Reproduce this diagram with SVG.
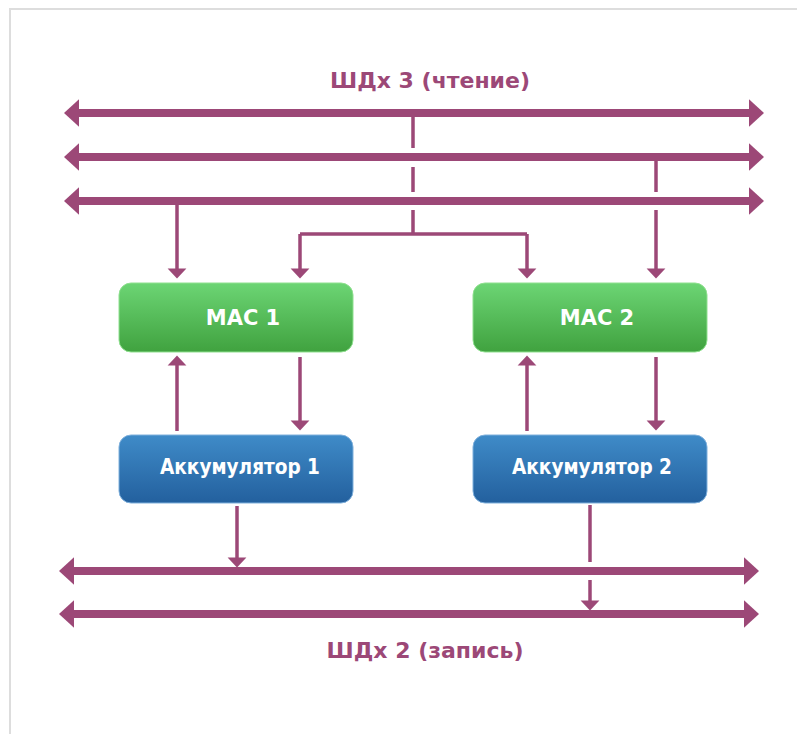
<svg xmlns="http://www.w3.org/2000/svg" width="797" height="734" viewBox="0 0 797 734">
<style>
.bus{stroke:#9c4877;stroke-width:8;fill:none;marker-start:url(#bh);marker-end:url(#bh)}
.ln{stroke:#9c4877;stroke-width:3.5;fill:none}
.ar{marker-end:url(#sh)}
.lbl{font-family:"DejaVu Sans",sans-serif;font-weight:bold;fill:#9c4877;font-size:22px;text-anchor:middle}
.nt{font-family:"DejaVu Sans",sans-serif;font-weight:bold;fill:#ffffff;font-size:21px}
</style>
<defs>
<marker id="bh" markerUnits="userSpaceOnUse" orient="auto-start-reverse" refX="0" refY="0" markerWidth="30" markerHeight="30" viewBox="-6 -12 18 24" overflow="visible">
<path d="M-4,-11 L8,0 L-4,11 z" fill="#9c4877"/>
</marker>
<marker id="sh" markerUnits="userSpaceOnUse" orient="auto" refX="0" refY="0" markerWidth="20" markerHeight="20" viewBox="-4 -8 12 16" overflow="visible">
<path d="M-2,-7.5 L6,0 L-2,7.5 z" fill="#9c4877"/>
</marker>
<linearGradient id="gg" x1="0" y1="0" x2="0" y2="1">
<stop offset="0" stop-color="#6cd574"/>
<stop offset="1" stop-color="#40a23f"/>
</linearGradient>
<linearGradient id="bg" x1="0" y1="0" x2="0" y2="1">
<stop offset="0" stop-color="#3f8bc8"/>
<stop offset="1" stop-color="#23609e"/>
</linearGradient>
</defs>
<rect x="0" y="0" width="797" height="734" fill="#ffffff"/>
<path d="M10,734 V9 H797" fill="none" stroke="#dddddd" stroke-width="2"/>

<text class="lbl" x="430" y="88">ШДх 3 (чтение)</text>
<text class="lbl" x="425" y="658">ШДх 2 (запись)</text>

<g id="connectors">
<line class="bus" x1="74" y1="113" x2="754" y2="113"/>
<line class="bus" x1="74" y1="157" x2="754" y2="157"/>
<line class="bus" x1="74" y1="201" x2="754" y2="201"/>
<line class="bus" x1="69" y1="571" x2="749" y2="571"/>
<line class="bus" x1="69" y1="614" x2="749" y2="614"/>

<path class="ln" d="M413,113 V148 M413,167 V192 M413,210 V234 M300,234 H527"/>
<path class="ln ar" d="M300,234 V271"/>
<path class="ln ar" d="M527,234 V271"/>
<path class="ln ar" d="M177,201 V271"/>
<path class="ln" d="M656,157 V192"/>
<path class="ln ar" d="M656,210 V271"/>

<path class="ln ar" d="M177,431 V363"/>
<path class="ln ar" d="M300,357 V423"/>
<path class="ln ar" d="M527,431 V363"/>
<path class="ln ar" d="M656,357 V423"/>

<path class="ln ar" d="M237,506 V560"/>
<path class="ln" d="M590,505 V562"/>
<path class="ln ar" d="M590,580 V603"/>
</g>

<g id="mac1">
<rect x="119" y="283" width="234" height="69" rx="12" fill="url(#gg)" stroke="#8fe08f" stroke-width="1"/>
<text class="nt" x="243" y="325" text-anchor="middle" font-size="22">MAC 1</text>
</g>
<g id="mac2">
<rect x="473" y="283" width="234" height="69" rx="12" fill="url(#gg)" stroke="#8fe08f" stroke-width="1"/>
<text class="nt" x="597" y="325" text-anchor="middle" font-size="22">MAC 2</text>
</g>
<g id="acc1">
<rect x="119" y="435" width="234" height="68" rx="12" fill="url(#bg)" stroke="#7fb0dc" stroke-width="1"/>
<text class="nt" x="160" y="474" font-size="20" textLength="160" lengthAdjust="spacingAndGlyphs">Аккумулятор 1</text>
</g>
<g id="acc2">
<rect x="473" y="435" width="234" height="68" rx="12" fill="url(#bg)" stroke="#7fb0dc" stroke-width="1"/>
<text class="nt" x="512" y="474" font-size="20" textLength="160" lengthAdjust="spacingAndGlyphs">Аккумулятор 2</text>
</g>
</svg>
